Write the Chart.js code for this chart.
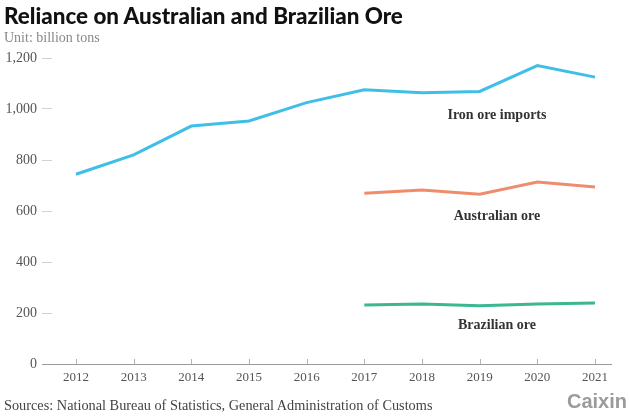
<!DOCTYPE html>
<html>
<head>
<meta charset="utf-8">
<script src="https://cdn.jsdelivr.net/npm/chart.js@4"></script>
<style>
  html, body { margin: 0; padding: 0; background: #fff; }
  #wrap { position: relative; width: 630px; height: 419px; overflow: hidden; }
  #chart { position: absolute; left: 0; top: 0; }
  .title { position: absolute; left: 4px; top: 2px; font: 900 22.4px Lato, sans-serif; color: #111; white-space: nowrap; }
  .unit { position: absolute; left: 4px; top: 30px; font: 14px "Liberation Serif", serif; color: #888; }
  .source { position: absolute; left: 4px; top: 397px; font: 14.3px "Liberation Serif", serif; color: #444; white-space: nowrap; }
  .logo { position: absolute; right: 3px; top: 390px; font: bold 20px "Liberation Sans", sans-serif; color: #9b9b9b; }
</style>
</head>
<body>
<div id="wrap">
  <canvas id="chart" width="630" height="419"></canvas>
  <div class="title">Reliance on Australian and Brazilian Ore</div>
  <div class="unit">Unit: billion tons</div>
  <div class="source">Sources: National Bureau of Statistics, General Administration of Customs</div>
  <div class="logo">Caixin</div>
</div>
<script>
// values
const years = [2012, 2013, 2014, 2015, 2016, 2017, 2018, 2019, 2020, 2021];
const ironImports = [744, 820, 933, 953, 1025, 1075, 1064, 1069, 1170, 1125];
const australianOre = [null, null, null, null, null, 670, 682, 666, 714, 694];
const brazilianOre = [null, null, null, null, null, 231, 235, 228, 235, 239];
const yTicks = [0, 200, 400, 600, 800, 1000, 1200];

// series labels drawn next to the lines
const seriesNotes = [
  { text: "Iron ore imports", x: 2019.3, y: 976 },
  { text: "Australian ore", x: 2019.3, y: 580 },
  { text: "Brazilian ore", x: 2019.3, y: 153 }
];

function toPoints(vals) {
  return years.map((yr, i) => ({ x: yr, y: vals[i] })).filter(p => p.y !== null);
}

const axisExtras = {
  id: "axisExtras",
  afterDraw(chart) {
    const { ctx, chartArea, scales } = chart;
    ctx.save();
    // baseline
    ctx.strokeStyle = "#9a9a9a";
    ctx.lineWidth = 1;
    ctx.beginPath();
    ctx.moveTo(chartArea.left - 10, chartArea.bottom + 0.5);
    ctx.lineTo(chartArea.right, chartArea.bottom + 0.5);
    ctx.stroke();
    // small upward ticks
    ctx.strokeStyle = "#b5b5b5";
    scales.x.ticks.forEach((t, i) => {
      const px = Math.round(scales.x.getPixelForTick(i)) + 0.5;
      ctx.beginPath();
      ctx.moveTo(px, chartArea.bottom);
      ctx.lineTo(px, chartArea.bottom - 5);
      ctx.stroke();
    });
    // series notes
    ctx.fillStyle = "#333";
    ctx.font = "bold 14px 'Liberation Serif', serif";
    ctx.textAlign = "center";
    ctx.textBaseline = "middle";
    seriesNotes.forEach(n => {
      ctx.fillText(n.text, scales.x.getPixelForValue(n.x), scales.y.getPixelForValue(n.y));
    });
    ctx.restore();
  }
};

new Chart(document.getElementById("chart"), {
  type: "line",
  data: {
    datasets: [
      { label: "Iron ore imports", data: toPoints(ironImports), borderColor: "#3fbfe7", borderWidth: 3 },
      { label: "Australian ore", data: toPoints(australianOre), borderColor: "#f08c6e", borderWidth: 3 },
      { label: "Brazilian ore", data: toPoints(brazilianOre), borderColor: "#3db792", borderWidth: 3 }
    ]
  },
  options: {
    responsive: false,
    animation: false,
    events: [],
    layout: { padding: { top: 58, right: 18, bottom: 0, left: 0 } },
    elements: { point: { radius: 0 }, line: { tension: 0, borderCapStyle: "butt", borderJoinStyle: "miter" } },
    plugins: { legend: { display: false }, tooltip: { enabled: false } },
    scales: {
      x: {
        type: "linear",
        min: 2011.584,
        max: 2021.295,
        afterBuildTicks: s => { s.ticks = years.map(v => ({ value: v })); },
        afterFit: s => { s.height = 55; },
        grid: { display: false, drawTicks: false },
        border: { display: false },
        ticks: {
          padding: 6,
          color: "#555",
          font: { family: "'Liberation Serif', serif", size: 13 },
          callback: v => String(v)
        }
      },
      y: {
        min: 0,
        max: 1200,
        afterBuildTicks: s => { s.ticks = yTicks.map(v => ({ value: v })); },
        afterFit: s => { s.width = 52; },
        grid: { drawOnChartArea: false, drawTicks: true, tickLength: 10, color: "#d2d2d2" },
        border: { display: false },
        ticks: {
          padding: 5,
          color: "#555",
          font: { family: "'Liberation Serif', serif", size: 14 },
          callback: v => v.toLocaleString("en-US")
        }
      }
    }
  },
  plugins: [axisExtras]
});
</script>
</body>
</html>
